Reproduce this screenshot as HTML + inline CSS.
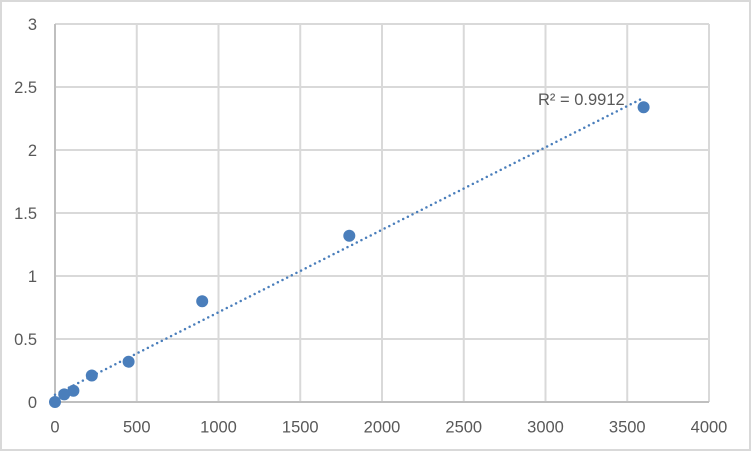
<!DOCTYPE html>
<html><head><meta charset="utf-8"><style>
html,body{margin:0;padding:0;background:#fff;}
svg{display:block;}
text{font-family:"Liberation Sans",sans-serif;font-size:16.5px;fill:#595959;}
</style></head><body>
<svg width="752" height="452" viewBox="0 0 752 452" xmlns="http://www.w3.org/2000/svg">
<rect x="1" y="1" width="749" height="449" fill="#fff" stroke="#d9d9d9" stroke-width="2"/>
<g stroke="#d9d9d9" stroke-width="2">
<line x1="55" y1="24" x2="709" y2="24"/>
<line x1="55" y1="87" x2="709" y2="87"/>
<line x1="55" y1="150" x2="709" y2="150"/>
<line x1="55" y1="213" x2="709" y2="213"/>
<line x1="55" y1="276" x2="709" y2="276"/>
<line x1="55" y1="339" x2="709" y2="339"/>
<line x1="136.75" y1="24" x2="136.75" y2="402"/>
<line x1="218.5" y1="24" x2="218.5" y2="402"/>
<line x1="300.25" y1="24" x2="300.25" y2="402"/>
<line x1="382" y1="24" x2="382" y2="402"/>
<line x1="463.75" y1="24" x2="463.75" y2="402"/>
<line x1="545.5" y1="24" x2="545.5" y2="402"/>
<line x1="627.25" y1="24" x2="627.25" y2="402"/>
<line x1="709" y1="24" x2="709" y2="402"/>
</g>
<g stroke="#bfbfbf" stroke-width="2">
<line x1="55" y1="24" x2="55" y2="403"/>
<line x1="54" y1="402" x2="709" y2="402"/>
</g>
<line x1="55" y1="394.7" x2="643.6" y2="97.8" stroke="#4a7ebb" stroke-width="2.5" stroke-linecap="round" stroke-dasharray="0 5.2"/>
<g fill="#4a7ebb">
<circle cx="55" cy="402" r="6"/>
<circle cx="64.2" cy="394.4" r="6"/>
<circle cx="73.4" cy="390.7" r="6"/>
<circle cx="91.8" cy="375.5" r="6"/>
<circle cx="128.6" cy="361.7" r="6"/>
<circle cx="202.2" cy="301.2" r="6"/>
<circle cx="349.3" cy="235.7" r="6"/>
<circle cx="643.6" cy="107.2" r="6"/>
</g>
<g text-anchor="end">
<text x="37" y="408">0</text>
<text x="37" y="345">0.5</text>
<text x="37" y="282">1</text>
<text x="37" y="219">1.5</text>
<text x="37" y="156">2</text>
<text x="37" y="93">2.5</text>
<text x="37" y="30">3</text>
</g>
<g text-anchor="middle">
<text x="55" y="432.5">0</text>
<text x="136.75" y="432.5">500</text>
<text x="218.5" y="432.5">1000</text>
<text x="300.25" y="432.5">1500</text>
<text x="382" y="432.5">2000</text>
<text x="463.75" y="432.5">2500</text>
<text x="545.5" y="432.5">3000</text>
<text x="627.25" y="432.5">3500</text>
<text x="709" y="432.5">4000</text>
</g>
<text x="538" y="105">R² = 0.9912</text>
</svg>
</body></html>
